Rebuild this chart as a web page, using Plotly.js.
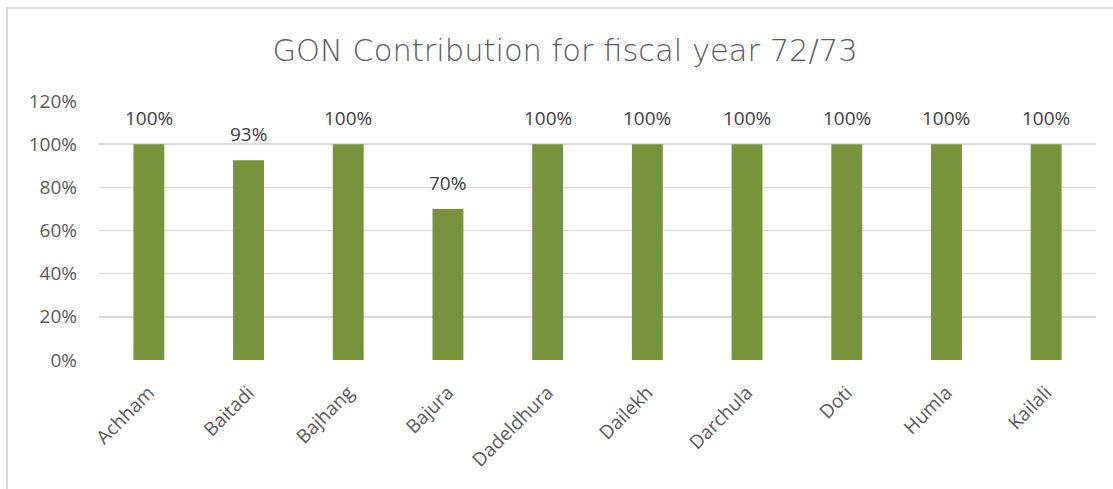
<!DOCTYPE html>
<html>
<head>
<meta charset="utf-8">
<script src="https://cdn.plot.ly/plotly-3.0.1.min.js"></script>
<style>
  html, body { margin: 0; padding: 0; width: 1113px; height: 489px; overflow: hidden; background: #fff; }
  #chart { position: absolute; left: 0; top: 0; width: 1113px; height: 489px; }
  #frame { position: absolute; left: 6px; top: 7px; width: 1130px; height: 510px; border: 2px solid #d9d9d9; box-sizing: border-box; pointer-events: none; }
</style>
</head>
<body>
<div id="chart"></div>
<div id="frame"></div>
<script>
const districts = ["Achham", "Baitadi", "Bajhang", "Bajura", "Dadeldhura", "Dailekh", "Darchula", "Doti", "Humla", "Kailali"];
const contribution = [1.00, 0.926, 1.00, 0.70, 1.00, 1.00, 1.00, 1.00, 1.00, 1.00];
const yTickValues = [0, 0.2, 0.4, 0.6, 0.8, 1.0, 1.2];
const yTickLabels = ["0%", "20%", "40%", "60%", "80%", "100%", "120%"];
const chartTitle = "GON Contribution for fiscal year 72/73";

const trace = {
  type: "bar",
  x: districts,
  y: contribution,
  marker: { color: "#77933C" },
  width: 0.31,
  hoverinfo: "x+y"
};

const annotations = districts.map((d, i) => ({
  x: d,
  y: contribution[i],
  xref: "x",
  yref: "y",
  text: Math.round(contribution[i] * 100) + "%",
  showarrow: false,
  yanchor: "bottom",
  yshift: 11,
  font: { family: "Open Sans, sans-serif", size: 19, color: "#404040" }
}));

const layout = {
  width: 1113,
  height: 489,
  margin: { l: 99, r: 17, t: 101, b: 129 },
  paper_bgcolor: "#ffffff",
  plot_bgcolor: "#ffffff",
  showlegend: false,
  title: {
    text: chartTitle,
    x: 565 / 1113,
    xref: "container",
    xanchor: "center",
    y: 1 - 50 / 489,
    yanchor: "middle",
    font: { family: "DejaVu Sans, sans-serif", size: 30.5, color: "#595959", weight: 200 }
  },
  xaxis: {
    type: "category",
    tickangle: -45,
    showgrid: false,
    zeroline: false,
    showline: false,
    ticks: "outside",
    ticklen: 13,
    tickcolor: "rgba(0,0,0,0)",
    tickfont: { family: "Open Sans, sans-serif", size: 19, color: "#595959" }
  },
  yaxis: {
    range: [0, 1.2],
    tickvals: yTickValues,
    ticktext: yTickLabels,
    showgrid: true,
    gridcolor: "#d9d9d9",
    gridwidth: 1.5,
    zeroline: false,
    showline: false,
    ticks: "",
    ticklabelstandoff: 21,
    tickfont: { family: "Open Sans, sans-serif", size: 19, color: "#595959" }
  },
  annotations: annotations
};

Plotly.newPlot("chart", [trace], layout, { displayModeBar: false, staticPlot: true });
</script>
</body>
</html>
